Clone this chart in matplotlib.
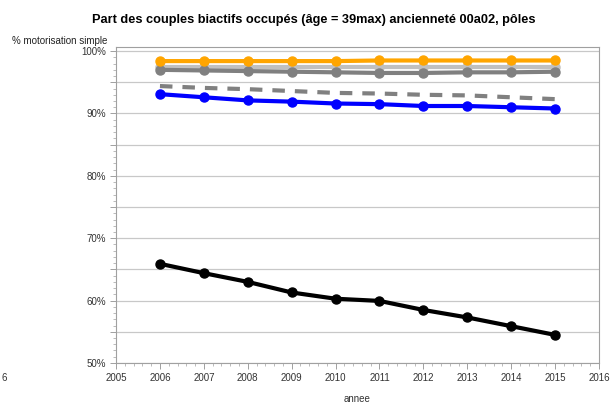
import matplotlib
matplotlib.use("Agg")
import matplotlib.pyplot as plt
from matplotlib.ticker import MultipleLocator, FuncFormatter

plt.rcParams['font.family'] = ['Liberation Sans', 'DejaVu Sans']

annees = [2006, 2007, 2008, 2009, 2010, 2011, 2012, 2013, 2014, 2015]

orange = [98.4, 98.4, 98.4, 98.4, 98.4, 98.5, 98.5, 98.5, 98.5, 98.5]
argent = [97.5, 97.5, 97.5, 97.5, 97.5, 97.5, 97.5, 97.5, 97.5, 97.5]
gris = [97.0, 96.9, 96.8, 96.7, 96.6, 96.5, 96.5, 96.6, 96.6, 96.7]
gris_tirets = [94.4, 94.1, 93.9, 93.6, 93.3, 93.2, 93.0, 92.9, 92.6, 92.3]
bleu = [93.1, 92.6, 92.1, 91.9, 91.6, 91.5, 91.2, 91.2, 91.0, 90.8]
noir = [65.9, 64.4, 63.0, 61.3, 60.3, 59.95, 58.5, 57.3, 55.9, 54.5]

fig = plt.figure(figsize=(6.14, 4.12), dpi=100)
ax = fig.add_axes([0.189, 0.119, 0.7866, 0.766])

ax.yaxis.grid(True, which='major', color='#c8c8c8', lw=0.9)
ax.set_axisbelow(True)

ax.plot(annees, gris_tirets, color='#808080', lw=3, ls=(0, (3, 2.4)))
ax.plot(annees, argent, color='#c0c0c0', lw=3, marker='o', ms=6.5)
ax.plot(annees, gris, color='#808080', lw=3, marker='o', ms=6.5)
ax.plot(annees, orange, color='#ffa500', lw=3, marker='o', ms=6.5)
ax.plot(annees, bleu, color='#0000ff', lw=3, marker='o', ms=6.5)
ax.plot(annees, noir, color='#000000', lw=3, marker='o', ms=6.5)

ax.set_xlim(2005, 2016)
ax.set_ylim(50, 100.6)
ax.xaxis.set_major_locator(MultipleLocator(1))
ax.xaxis.set_minor_locator(MultipleLocator(0.2))
ax.yaxis.set_major_locator(MultipleLocator(5))
ax.yaxis.set_minor_locator(MultipleLocator(1))
ax.yaxis.set_major_formatter(FuncFormatter(
    lambda v, p: '%d%%' % v if round(v) % 10 == 0 else ''))

for s in ax.spines.values():
    s.set_color('#a0a0a0')
    s.set_linewidth(0.8)
ax.tick_params(which='major', length=4, width=0.7, color='#a0a0a0',
               labelsize=7, labelcolor='#333333', pad=3)
ax.tick_params(which='minor', length=2, width=0.6, color='#b0b0b0')

ax.set_xlabel('annee', fontsize=7, color='#333333', labelpad=8)
fig.text(0.02, 0.893, '% motorisation simple', fontsize=7, color='#222222')
fig.text(0.511, 0.945, 'Part des couples biactifs occupés (âge = 39max) ancienneté 00a02, pôles',
         fontsize=9.2, fontweight='bold', ha='center')
fig.text(0.003, 0.075, '6', fontsize=7, color='#333333')

fig.savefig('out.png', dpi=100)
